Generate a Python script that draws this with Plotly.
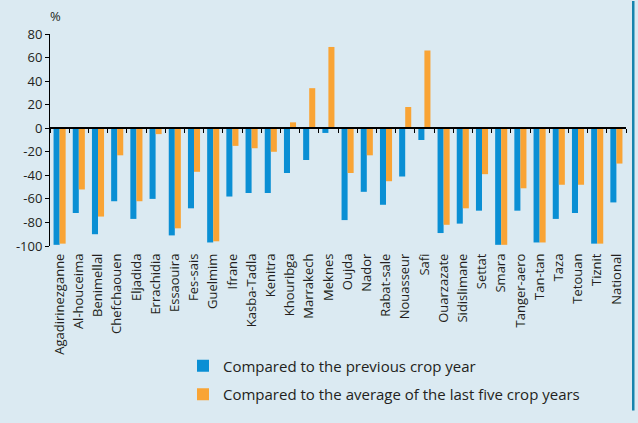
import plotly.graph_objects as go

regions = [
    "Agadirinezganne", "Al-houceima", "Benimellal", "Chefchaouen", "Eljadida",
    "Errachidia", "Essaouira", "Fes-sais", "Guelmim", "Ifrane", "Kasba-Tadla",
    "Kenitra", "Khouribga", "Marrakech", "Meknes", "Oujda", "Nador",
    "Rabat-sale", "Nouasseur", "Safi", "Ouarzazate", "Sidislimane", "Settat",
    "Smara", "Tanger-aero", "Tan-tan", "Taza", "Tetouan", "Tiznit", "National",
]

vs_previous_year = [
    -99, -72, -90, -62, -77, -60, -91, -68, -97, -58, -55, -55, -38, -27, -4,
    -78, -54, -65, -41, -10, -89, -81, -70, -99, -70, -97, -77, -72, -98, -63,
]

vs_five_year_avg = [
    -98, -52, -75, -23, -62, -5, -85, -37, -96, -15, -17, -20, 5, 34, 69,
    -38, -23, -45, 18, 66, -82, -68, -39, -99, -51, -97, -48, -48, -98, -30,
]

y_ticks = [80, 60, 40, 20, 0, -20, -40, -60, -80, -100]
y_tick_text = [str(v) for v in y_ticks]

BLUE = "#0a8fd4"
ORANGE = "#f9a435"
BG = "#dbeaf2"
TEXT = "#231f20"
FRAME = "#1784ad"
FONT = "Open Sans"

# plot-area geometry in pixels
W, H = 638, 423
ML, MR, MT, MB = 50, 12, 34, 170
PW, PH = W - ML - MR, H - MT - MB

fig = go.Figure()

fig.add_trace(go.Bar(
    x=regions, y=vs_previous_year, name="Compared to the previous crop year",
    marker=dict(color=BLUE, line=dict(width=0)), legendgroup="a",
))
fig.add_trace(go.Bar(
    x=regions, y=vs_five_year_avg,
    name="Compared to the average of the last five crop years",
    marker=dict(color=ORANGE, line=dict(width=0)), legendgroup="b",
))
# transparent trace that carries the category axis drawn along the zero line
fig.add_trace(go.Bar(
    x=regions, y=[0] * len(regions), xaxis="x2", showlegend=False,
    hoverinfo="skip", marker=dict(color="rgba(0,0,0,0)"),
))

y_min, y_max = -100, 80
zero_pos = (0 - y_min) / (y_max - y_min)

# right-hand frame edge of the panel
frame_x0, frame_x1 = (632 - ML) / PW, (634.5 - ML) / PW
frame_shapes = [
    dict(type="rect", xref="paper", yref="paper", layer="above",
         x0=frame_x0, x1=frame_x1, y0=-MB / PH, y1=1 + MT / PH,
         fillcolor=FRAME, line=dict(width=0)),
]

fig.update_layout(
    width=W, height=H,
    margin=dict(l=ML, r=MR, t=MT, b=MB),
    paper_bgcolor=BG, plot_bgcolor=BG,
    font=dict(family=FONT, size=13, color=TEXT),
    barmode="group", bargap=0.37, bargroupgap=0,
    xaxis=dict(
        type="category", categoryorder="array", categoryarray=regions,
        range=[-0.5, len(regions) - 0.5], automargin=False,
        tickangle=-90, showline=False, ticks="", showgrid=False,
        ticklabelstandoff=4,
        tickfont=dict(size=13, color=TEXT), zeroline=False,
    ),
    xaxis2=dict(
        type="category", categoryorder="array", categoryarray=regions,
        range=[-0.5, len(regions) - 0.5],
        overlaying="x", anchor="free", position=zero_pos,
        showticklabels=False, showline=True, linecolor="#000000", linewidth=1.5,
        ticks="outside", tickson="boundaries", ticklen=4, tickcolor="#000000",
        tickwidth=1, showgrid=False, zeroline=False,
    ),
    yaxis=dict(
        range=[y_min, y_max], tickvals=y_ticks, ticktext=y_tick_text,
        showgrid=False, zeroline=False, automargin=False,
        showline=True, linecolor="#000000", linewidth=1,
        ticks="outside", ticklen=4, tickcolor="#000000",
        tickfont=dict(size=13, color=TEXT),
    ),
    legend=dict(
        x=(183 - ML) / PW, y=-(423 - MT - PH) / PH,
        xanchor="left", yanchor="bottom", orientation="v",
        traceorder="grouped", tracegroupgap=6,
        bgcolor="rgba(0,0,0,0)", font=dict(size=15, color=TEXT),
    ),
    annotations=[dict(
        text="%", xref="paper", yref="paper", x=0, y=1, xanchor="center",
        yanchor="bottom", yshift=7, xshift=5, showarrow=False,
        font=dict(size=13, color=TEXT),
    )],
    shapes=frame_shapes,
)

fig.write_html("out.html", config={"displayModeBar": False})
